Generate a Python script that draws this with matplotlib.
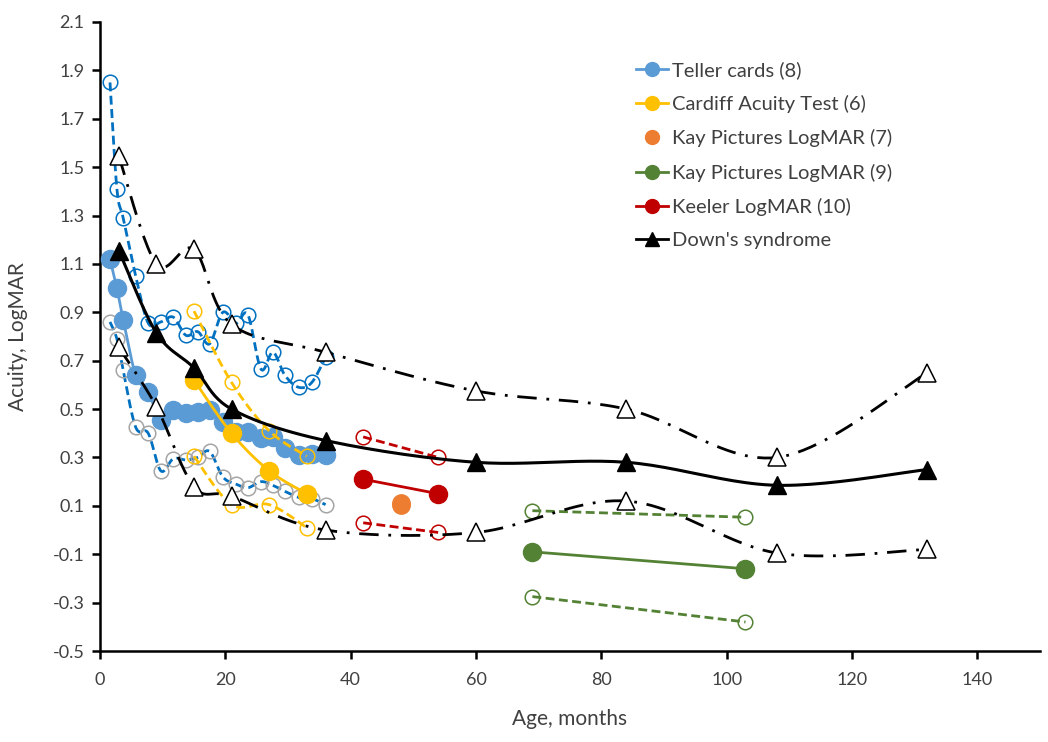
import numpy as np
import matplotlib
matplotlib.use("Agg")
from matplotlib import pyplot as plt

plt.rcParams['font.family'] = ['Lato', 'DejaVu Sans']

# Teller cards (8)
teller_age = [1.6, 2.7, 3.7, 5.7, 7.7, 9.7, 11.7, 13.7, 15.6, 17.5, 19.6, 21.7, 23.6, 25.7, 27.6, 29.5, 31.7, 33.8, 36]
teller_mean = [1.12, 1.00, 0.87, 0.64, 0.57, 0.455, 0.495, 0.485, 0.49, 0.495, 0.445, 0.405, 0.405, 0.38, 0.385, 0.34, 0.31, 0.315, 0.31]
teller_upper = [1.85, 1.41, 1.29, 1.05, 0.855, 0.86, 0.88, 0.805, 0.82, 0.77, 0.90, 0.855, 0.89, 0.665, 0.735, 0.64, 0.59, 0.61, 0.715]
teller_lower = [0.86, 0.79, 0.66, 0.425, 0.40, 0.245, 0.295, 0.29, 0.30, 0.325, 0.22, 0.19, 0.175, 0.20, 0.185, 0.16, 0.135, 0.13, 0.105]

# Cardiff Acuity Test (6)
cardiff_age = [15, 21, 27, 33]
cardiff_mean = [0.62, 0.40, 0.245, 0.15]
cardiff_upper = [0.905, 0.61, 0.41, 0.305]
cardiff_lower = [0.305, 0.105, 0.105, 0.01]

# Kay Pictures LogMAR (7)
kay7_age = [48, 48]
kay7_val = [0.113, 0.102]

# Kay Pictures LogMAR (9)
kay9_age = [69, 103]
kay9_mean = [-0.09, -0.16]
kay9_upper = [0.08, 0.053]
kay9_lower = [-0.275, -0.38]

# Keeler LogMAR (10)
keeler_age = [42, 54]
keeler_mean = [0.21, 0.15]
keeler_upper = [0.385, 0.30]
keeler_lower = [0.03, -0.01]

# Down's syndrome
down_age = [3, 9, 15, 21, 36, 60, 84, 108, 132]
down_mean = [1.155, 0.815, 0.67, 0.50, 0.37, 0.28, 0.28, 0.185, 0.25]
down_upper = [1.545, 1.10, 1.16, 0.85, 0.735, 0.575, 0.50, 0.30, 0.65]
down_lower = [0.755, 0.51, 0.18, 0.14, 0.0, -0.01, 0.12, -0.095, -0.08]

BLUE_L = '#5B9BD5'
BLUE_D = '#0070C0'
GREY = '#A5A5A5'
YELLOW = '#FFC000'
ORANGE = '#ED7D31'
GREEN = '#548235'
RED = '#C00000'
TXT = '#404040'


def smooth(x, y, n=24):
	# excel-like smoothed line (bezier through the points)
	pts = np.column_stack([x, y]).astype(float)
	if len(pts) < 3:
		return pts[:, 0], pts[:, 1]
	p = np.vstack([pts[0], pts, pts[-1]])
	t = np.linspace(0, 1, n, endpoint=False)[:, None]
	out = []
	for i in range(1, len(p) - 2):
		p0, p1, p2, p3 = p[i - 1], p[i], p[i + 1], p[i + 2]
		c1 = p1 + (p2 - p0) / 6.0
		c2 = p2 - (p3 - p1) / 6.0
		out.append((1 - t) ** 3 * p1 + 3 * (1 - t) ** 2 * t * c1 + 3 * (1 - t) * t ** 2 * c2 + t ** 3 * p2)
	out.append(pts[-1:])
	out = np.vstack(out)
	return out[:, 0], out[:, 1]


def band(ax, x, y, lcolor, mcolor, dashes, lw=2.0, ms=10.5, z=2):
	sx, sy = smooth(x, y)
	ax.plot(sx, sy, color=lcolor, lw=lw, dashes=dashes, zorder=z)
	ax.plot(x, y, ls='none', marker='o', ms=ms, mfc='none', mec=mcolor, mew=1.1, zorder=z + 0.1)


def mean_line(ax, x, y, color, label, marker='o', ms=13, z=3):
	sx, sy = smooth(x, y)
	ax.plot(sx, sy, color=color, lw=2.0, zorder=z)
	ax.plot(x, y, ls='none', marker=marker, ms=ms, mfc=color, mec=color, zorder=z + 0.1)
	h, = ax.plot([], [], color=color, lw=2.0, marker=marker, ms=10, mfc=color, mec=color, label=label)
	return h


fig = plt.figure(figsize=(10.48, 7.42), dpi=100)
ax = fig.add_axes([0.0954, 0.1226, 0.8970, 0.8478])

handles = []
dash = (3.2, 1.6)
dashdot = (7, 3.5, 1, 3.5)

# Teller
band(ax, teller_age, teller_upper, BLUE_D, BLUE_D, dash)
band(ax, teller_age, teller_lower, BLUE_D, GREY, dash)
handles.append(mean_line(ax, teller_age, teller_mean, BLUE_L, 'Teller cards (8)'))

# Cardiff
band(ax, cardiff_age, cardiff_upper, YELLOW, YELLOW, dash, z=4)
band(ax, cardiff_age, cardiff_lower, YELLOW, YELLOW, dash, z=4)
handles.append(mean_line(ax, cardiff_age, cardiff_mean, YELLOW, 'Cardiff Acuity Test (6)', z=5))

# Kay (7)
ax.plot(kay7_age, kay7_val, ls='none', marker='o', ms=12.5, mfc=ORANGE, mec=ORANGE, zorder=5)
h, = ax.plot([], [], ls='none', marker='o', ms=10, mfc=ORANGE, mec=ORANGE, label='Kay Pictures LogMAR (7)')
handles.append(h)

# Kay (9)
band(ax, kay9_age, kay9_upper, GREEN, GREEN, dash, z=4)
band(ax, kay9_age, kay9_lower, GREEN, GREEN, dash, z=4)
handles.append(mean_line(ax, kay9_age, kay9_mean, GREEN, 'Kay Pictures LogMAR (9)', z=5))

# Keeler
band(ax, keeler_age, keeler_upper, RED, RED, dash, z=4)
band(ax, keeler_age, keeler_lower, RED, RED, dash, z=4)
handles.append(mean_line(ax, keeler_age, keeler_mean, RED, 'Keeler LogMAR (10)', z=5))

# Down's syndrome
for yv in (down_upper, down_lower):
	sx, sy = smooth(down_age, yv)
	ax.plot(sx, sy, color='black', lw=2.0, dashes=dashdot, zorder=6)
	ax.plot(down_age, yv, ls='none', marker='^', ms=12.5, mfc='white', mec='black', mew=1.1, zorder=6.1)
sx, sy = smooth(down_age, down_mean)
ax.plot(sx, sy, color='black', lw=2.2, zorder=7)
ax.plot(down_age, down_mean, ls='none', marker='^', ms=12.5, color='black', zorder=7.1)
h, = ax.plot([], [], color='black', lw=2.0, marker='^', ms=10, label="Down's syndrome")
handles.append(h)

ax.set_xlim(0, 150)
ax.set_ylim(-0.5, 2.1)
ax.set_xticks(np.arange(0, 141, 20))
ax.set_yticks(np.arange(-0.5, 2.11, 0.2))
ax.set_yticklabels(['{0:.1f}'.format(v) for v in np.arange(-0.5, 2.11, 0.2)])
for s in ('top', 'right'):
	ax.spines[s].set_visible(False)
for s in ('left', 'bottom'):
	ax.spines[s].set_linewidth(1.8)
ax.tick_params(direction='out', length=6, width=1.8, labelsize=13, colors='black', labelcolor=TXT)
ax.tick_params(axis='x', pad=9)
ax.tick_params(axis='y', pad=5)
ax.set_xlabel('Age, months', fontsize=15, color=TXT, labelpad=15)
ax.set_ylabel('Acuity, LogMAR', fontsize=15, color=TXT, labelpad=18)

leg = fig.legend(handles=handles, loc='upper left', bbox_to_anchor=(0.590, 0.942), frameon=False,
	fontsize=14.5, labelspacing=0.8, handlelength=1.55, handletextpad=0.2, labelcolor=TXT)

plt.savefig('out.png', dpi=100)
